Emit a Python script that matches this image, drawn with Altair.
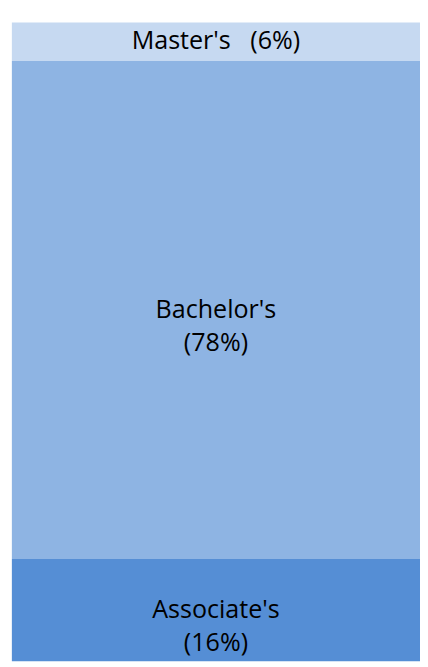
import altair as alt
import pandas as pd

categories = ["Associate's", "Bachelor's", "Master's"]
shares = [16, 78, 6]
labels = ["Associate's\n(16%)", "Bachelor's\n(78%)", "Master's\u00a0\u00a0 (6%)"]
stack_rank = [1, 2, 3]
colors = ["#558ED5", "#8EB4E3", "#C6D9F1"]

df = pd.DataFrame({
    "group": ["All"] * len(categories),
    "category": categories,
    "share": shares,
    "label": labels,
    "rank": stack_rank,
})

yscale = alt.Scale(domain=[0, 100], nice=False, zero=True)
xscale = alt.Scale(paddingInner=0, paddingOuter=0)

base = alt.Chart(df).transform_stack(
    stack="share", as_=["y0", "y1"], groupby=["group"], sort=[alt.SortField("rank", order="ascending")]
).transform_calculate(mid="(datum.y0 + datum.y1) / 2")

bars = base.mark_bar(strokeWidth=0).encode(
    x=alt.X("group:N", axis=None, scale=xscale),
    y=alt.Y("y0:Q", axis=None, scale=yscale),
    y2="y1:Q",
    color=alt.Color("category:N", scale=alt.Scale(domain=categories, range=colors), legend=None),
)

text = base.mark_text(
    lineBreak="\n", fontSize=26, font="Open Sans", color="#000000",
    baseline="middle", align="center", lineHeight=34,
).encode(
    x=alt.X("group:N", axis=None, scale=xscale),
    y=alt.Y("mid:Q", axis=None, scale=yscale),
    text="label:N",
)

chart = alt.layer(bars, text).properties(
    width=423, height=662,
    padding={"left": 4, "top": 3, "right": 0, "bottom": 0},
    autosize=alt.AutoSizeParams(type="none"),
).configure_view(stroke=None)

chart.save("out.html", embed_options={"renderer": "svg", "actions": False})
